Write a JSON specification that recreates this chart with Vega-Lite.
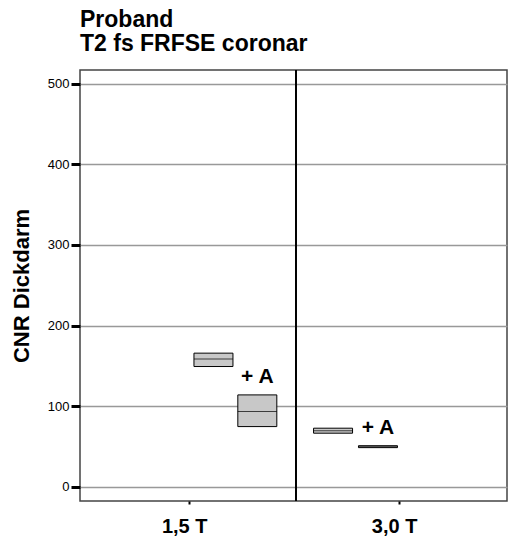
{
  "$schema": "https://vega.github.io/schema/vega-lite/v6.json",
  "width": 427,
  "height": 431,
  "autosize": "none",
  "padding": {"left": 80, "top": 70, "right": 1, "bottom": 39},
  "background": "white",
  "title": {
    "text": ["Proband", "T2 fs FRFSE coronar"],
    "anchor": "start",
    "frame": "group",
    "font": "Liberation Sans",
    "fontSize": 23,
    "fontWeight": "bold",
    "lineHeight": 24,
    "color": "black",
    "offset": 13
  },
  "config": {
    "font": "Liberation Sans",
    "view": {"stroke": "#444", "strokeWidth": 1.5}
  },
  "data": {
    "values": [
      {"magnet": "1,5 T", "kontrast": "", "lage": 0.609, "q1": 149.2, "median": 158.4, "q3": 165.8},
      {"magnet": "1,5 T", "kontrast": "+ A", "lage": 0.817, "q1": 74.7, "median": 93.3, "q3": 114},
      {"magnet": "3,0 T", "kontrast": "", "lage": 1.176, "q1": 66.5, "median": 69.6, "q3": 72.7},
      {"magnet": "3,0 T", "kontrast": "+ A", "lage": 1.389, "q1": 48.6, "median": 49.8, "q3": 51}
    ]
  },
  "encoding": {
    "x": {
      "field": "lage",
      "type": "quantitative",
      "scale": {"domain": [0, 1.977], "nice": false, "zero": false},
      "axis": {
        "title": null,
        "values": [0.494, 1.489],
        "labelExpr": "datum.value < 1 ? '1,5 T' : '3,0 T'",
        "labelFontSize": 20,
        "labelFontWeight": "bold",
        "labelColor": "black",
        "labelOffset": -5,
        "labelPadding": 12,
        "tickSize": 3,
        "tickWidth": 2,
        "tickColor": "black",
        "domain": false,
        "grid": false
      }
    },
    "y": {
      "field": "q3",
      "type": "quantitative",
      "scale": {"domain": [-17.6, 517], "nice": false, "zero": false},
      "axis": {
        "title": "CNR Dickdarm",
        "titleFontSize": 22,
        "titleFontWeight": "bold",
        "titleColor": "black",
        "titlePadding": 14,
        "values": [0, 100, 200, 300, 400, 500],
        "labelFontSize": 13,
        "labelColor": "black",
        "labelPadding": 2,
        "tickSize": 9,
        "tickWidth": 3,
        "tickColor": "black",
        "domain": false,
        "grid": true,
        "gridColor": "#999",
        "gridWidth": 1.5
      }
    }
  },
  "layer": [
    {
      "mark": {"type": "rule", "color": "black", "strokeWidth": 1.5},
      "encoding": {"x": {"datum": 1}, "y": null}
    },
    {
      "mark": {"type": "bar", "width": 39, "fill": "#c8c8c8", "stroke": "black", "strokeWidth": 1},
      "encoding": {"y2": {"field": "q1"}}
    },
    {
      "mark": {"type": "tick", "orient": "horizontal", "size": 39, "thickness": 1, "color": "black"},
      "encoding": {"y": {"field": "median", "type": "quantitative"}}
    },
    {
      "transform": [{"filter": "datum.kontrast != ''"}],
      "mark": {"type": "text", "fontSize": 21, "fontWeight": "bold", "color": "black", "baseline": "alphabetic", "dy": -12},
      "encoding": {"text": {"field": "kontrast"}}
    }
  ]
}
